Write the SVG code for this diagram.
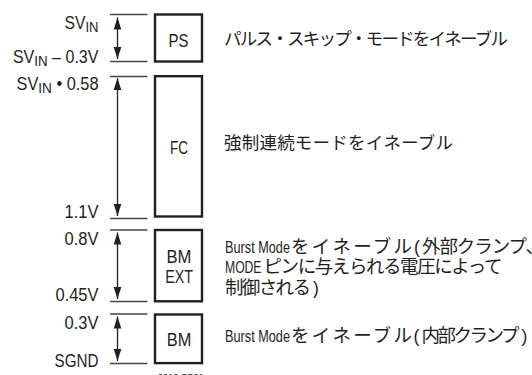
<svg xmlns="http://www.w3.org/2000/svg" width="532" height="375" viewBox="0 0 532 375">
<style>
.lbl{font-family:"Liberation Sans",Arial,sans-serif;font-size:18px;fill:#231f20;text-anchor:end}
.sub{font-size:15px}
.box{fill:#fff;stroke:#231f20;stroke-width:2.4}
.bt{font-family:"Liberation Sans",Arial,sans-serif;font-size:18px;fill:#231f20;text-anchor:middle}
.desc{font-family:"Noto Sans CJK JP","Noto Sans CJK SC",sans-serif;font-size:17.5px;fill:#231f20}
.jp{font-family:"Noto Sans CJK JP","Noto Sans CJK SC",sans-serif;font-size:18.5px;fill:#231f20}
.lat{font-family:"Liberation Sans",Arial,sans-serif;font-size:15.8px;fill:#231f20}
.par{font-family:"Liberation Sans",Arial,sans-serif;font-size:17.5px;fill:#231f20}
.tick{stroke:#444;stroke-width:1.3;fill:none}
.arr{stroke:#231f20;stroke-width:1.3;fill:none;marker-start:url(#ah);marker-end:url(#ah)}
.code{font-family:"Liberation Sans",Arial,sans-serif;font-size:9px;fill:#231f20}
</style>
<defs>
<marker id="ah" markerUnits="userSpaceOnUse" markerWidth="14" markerHeight="10" viewBox="-13 -5 14 10" refX="0" refY="0" orient="auto-start-reverse">
<path d="M0,0 L-12,-3.8 L-12,3.8 Z" fill="#231f20"/>
</marker>
</defs>
<g id="connectors">
<line class="tick" x1="110" y1="14.5" x2="147.5" y2="14.5"/>
<line class="tick" x1="110" y1="61.5" x2="147.5" y2="61.5"/>
<line class="tick" x1="110" y1="76.5" x2="147.5" y2="76.5"/>
<line class="tick" x1="110" y1="218.5" x2="147.5" y2="218.5"/>
<line class="tick" x1="110" y1="230" x2="147.5" y2="230"/>
<line class="tick" x1="110" y1="301.5" x2="147.5" y2="301.5"/>
<line class="tick" x1="110" y1="314" x2="147.5" y2="314"/>
<line class="tick" x1="110" y1="363.5" x2="147.5" y2="363.5"/>
<line class="arr" x1="117.5" y1="17.5" x2="117.5" y2="59"/>
<line class="arr" x1="117.5" y1="78" x2="117.5" y2="216"/>
<line class="arr" x1="117.5" y1="232.5" x2="117.5" y2="299"/>
<line class="arr" x1="117.5" y1="316.5" x2="117.5" y2="361"/>
</g>
<g id="levels">
<text class="lbl" x="98.5" y="29.3" textLength="34" lengthAdjust="spacingAndGlyphs">SV<tspan class="sub" dy="2.5">IN</tspan></text>
<text class="lbl" x="98.5" y="63" textLength="85.6" lengthAdjust="spacingAndGlyphs">SV<tspan class="sub" dy="2.5">IN</tspan><tspan dy="-2.5"> – 0.3V</tspan></text>
<text class="lbl" x="98.5" y="90" textLength="82" lengthAdjust="spacingAndGlyphs">SV<tspan class="sub" dy="2.5">IN</tspan><tspan dy="-2.5"> • 0.58</tspan></text>
<text class="lbl" x="98.5" y="218" textLength="34" lengthAdjust="spacingAndGlyphs">1.1V</text>
<text class="lbl" x="98.5" y="244.7" textLength="34" lengthAdjust="spacingAndGlyphs">0.8V</text>
<text class="lbl" x="98.5" y="301" textLength="43" lengthAdjust="spacingAndGlyphs">0.45V</text>
<text class="lbl" x="98.5" y="329.3" textLength="34" lengthAdjust="spacingAndGlyphs">0.3V</text>
<text class="lbl" x="98.5" y="366.7" textLength="44" lengthAdjust="spacingAndGlyphs">SGND</text>
</g>
<g id="node-ps">
<rect class="box" x="155" y="14.5" width="47" height="47"/>
<text class="bt" x="178.5" y="46.5" textLength="20" lengthAdjust="spacingAndGlyphs">PS</text>
<text class="desc" x="224" y="44.5" textLength="284" lengthAdjust="spacing">パルス・スキップ・モードをイネーブル</text>
</g>
<g id="node-fc">
<rect class="box" x="155" y="76.2" width="47" height="140.3"/>
<text class="bt" x="179" y="154" textLength="18" lengthAdjust="spacingAndGlyphs">FC</text>
<text class="desc" x="224" y="148.5" textLength="229" lengthAdjust="spacing">強制連続モードをイネーブル</text>
</g>
<g id="node-bmext">
<rect class="box" x="155" y="230" width="47" height="71.3"/>
<text class="bt" x="179" y="262.7" textLength="25" lengthAdjust="spacingAndGlyphs">BM</text>
<text class="bt" x="179" y="283.3" textLength="27.7" lengthAdjust="spacingAndGlyphs">EXT</text>
<g id="desc-bmext">
<text class="lat" transform="translate(225 252.6) scale(0.805 1)">Burst Mode</text>
<text class="jp" x="291" y="252.6" textLength="121" lengthAdjust="spacing">をイネーブル</text>
<text class="par" x="414" y="252.6">(</text>
<text class="jp" x="422" y="252.6" textLength="122" lengthAdjust="spacing">外部クランプ、</text>
<text class="lat" transform="translate(225 273) scale(0.77 1)">MODE</text>
<text class="jp" x="263.5" y="273" textLength="239" lengthAdjust="spacing">ピンに与えられる電圧によって</text>
<text class="jp" x="225" y="293.5" textLength="86" lengthAdjust="spacing">制御される</text>
<text class="par" x="313" y="293.5">)</text>
</g>
</g>
<g id="node-bm">
<rect class="box" x="155" y="314.5" width="47" height="48.6"/>
<text class="bt" x="179" y="345.7" textLength="24.5" lengthAdjust="spacingAndGlyphs">BM</text>
<g id="desc-bm">
<text class="lat" transform="translate(225 341.5) scale(0.805 1)">Burst Mode</text>
<text class="jp" x="291" y="341.5" textLength="121" lengthAdjust="spacing">をイネーブル</text>
<text class="par" x="413.5" y="341.5">(</text>
<text class="jp" x="421.5" y="341.5" textLength="98" lengthAdjust="spacing">内部クランプ</text>
<text class="par" x="521.5" y="341.5">)</text>
</g>
</g>
<text class="code" x="158" y="379.5">3616 OP01</text>
</svg>
